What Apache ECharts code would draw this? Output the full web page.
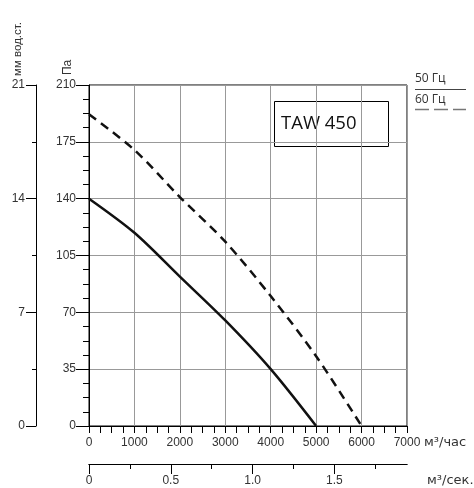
<!DOCTYPE html>
<html>
<head>
<meta charset="utf-8">
<style>
  html, body { margin: 0; padding: 0; background: #fff; }
  #chart { width: 474px; height: 488px; }
</style>
<script src="https://cdn.jsdelivr.net/npm/echarts@6/dist/echarts.min.js"></script>
</head>
<body>
<div id="chart"></div>
<script>
// расход, м3/час
var flow = [0, 1000, 2000, 3000, 4000, 5000, 6000];
// давление, Па
var pressure50 = [140, 119, 92, 65, 35, 0];
var pressure60 = [192, 170, 141, 113.5, 80, 43, 0];
// подписи второй оси (м3/сек)
var secMajor = [0, 0.5, 1.0, 1.5];
var secMinor = [0.25, 0.75, 1.25, 1.75];

var FONT = "'Liberation Sans', Arial, sans-serif";
var TXT = '#333';

var myChart = echarts.init(document.getElementById('chart'));

function pairs(vals) {
    return vals.map(function (v, i) { return [flow[i], v]; });
}

var option = {
    animation: false,
    textStyle: { fontFamily: FONT },
    grid: {
        left: 89, top: 85, width: 318, height: 341,
        show: true, borderColor: '#000', borderWidth: 1
    },
    xAxis: [
        {
            type: 'value', min: 0, max: 7000, interval: 1000,
            axisLine: { lineStyle: { color: '#000' } },
            axisTick: { length: 7, lineStyle: { color: '#000' } },
            minorTick: { show: true, splitNumber: 4, length: 7, lineStyle: { color: '#000' } },
            axisLabel: {
                color: TXT, fontSize: 12, margin: 11,
                formatter: function (v) { return String(v); }
            },
            splitLine: { lineStyle: { color: '#999', width: 1 } }
        },
        {
            type: 'value', position: 'bottom', offset: 38,
            min: 0, max: 7000 / 3600,
            axisLine: { onZero: false, lineStyle: { color: '#000' } },
            axisTick: { customValues: secMajor, length: 10, lineStyle: { color: '#000' } },
            axisLabel: {
                customValues: secMajor, color: TXT, fontSize: 12, margin: 11,
                formatter: function (v) { return v === 0 ? '0' : v.toFixed(1); }
            },
            splitLine: { show: false }
        },
        {
            type: 'value', position: 'bottom', offset: 38,
            min: 0, max: 7000 / 3600,
            axisLine: { onZero: false, lineStyle: { color: '#000' } },
            axisTick: { customValues: secMinor, length: 5, lineStyle: { color: '#000' } },
            axisLabel: { show: false },
            splitLine: { show: false }
        }
    ],
    yAxis: [
        {
            type: 'value', min: 0, max: 210, interval: 35,
            axisLine: { show: true, lineStyle: { color: '#000' } },
            axisTick: { show: true, length: 13, lineStyle: { color: '#000' } },
            minorTick: { show: true, splitNumber: 4, length: 6, lineStyle: { color: '#000' } },
            axisLabel: { color: TXT, fontSize: 12, margin: 13 },
            splitLine: { lineStyle: { color: '#999', width: 1 } }
        },
        {
            type: 'value', position: 'left', offset: 53,
            min: 0, max: 21, interval: 7,
            axisLine: { show: true, onZero: false, lineStyle: { color: '#000' } },
            axisTick: { show: true, length: 10, lineStyle: { color: '#000' } },
            minorTick: { show: true, splitNumber: 2, length: 4, lineStyle: { color: '#000' } },
            axisLabel: { color: TXT, fontSize: 12, margin: 11 },
            splitLine: { show: false }
        }
    ],
    series: [
        {
            name: '50 Гц', type: 'line', smooth: 0.3, symbol: 'none',
            data: pairs(pressure50),
            lineStyle: { color: '#111', width: 2.5 }
        },
        {
            name: '60 Гц', type: 'line', smooth: 0.3, symbol: 'none',
            data: pairs(pressure60),
            lineStyle: { color: '#111', width: 2.5, type: [9, 6] }
        }
    ],
    graphic: [
        {
            type: 'text', x: 18, y: 76, rotation: Math.PI / 2,
            style: { text: 'мм вод.ст.', fill: TXT, font: '11.5px ' + FONT, align: 'left', verticalAlign: 'middle' }
        },
        {
            type: 'text', x: 68, y: 75, rotation: Math.PI / 2,
            style: { text: 'Па', fill: TXT, font: '12px ' + FONT, align: 'left', verticalAlign: 'middle' }
        },
        {
            type: 'rect', shape: { x: 274.5, y: 101.5, width: 114, height: 45 },
            style: { fill: '#fff', stroke: '#000', lineWidth: 1 }
        },
        {
            type: 'text', x: 281, y: 124,
            style: { text: 'TAW 450', fill: '#111', font: "18.5px 'Open Sans', sans-serif", verticalAlign: 'middle' }
        },
        {
            type: 'text', x: 415, y: 79,
            style: { text: '50 Гц', fill: TXT, font: "12px 'Open Sans', sans-serif", verticalAlign: 'middle' }
        },
        {
            type: 'line', shape: { x1: 415, y1: 89.5, x2: 466, y2: 89.5 },
            style: { stroke: '#444', lineWidth: 1 }
        },
        {
            type: 'text', x: 415, y: 100,
            style: { text: '60 Гц', fill: TXT, font: "12px 'Open Sans', sans-serif", verticalAlign: 'middle' }
        },
        {
            type: 'line', shape: { x1: 415, y1: 109.5, x2: 466, y2: 109.5 },
            style: { stroke: '#777', lineWidth: 1.5, lineDash: [14, 5] }
        },
        {
            type: 'text', x: 424, y: 443,
            style: { text: 'м³/час', fill: TXT, font: "13px 'DejaVu Sans', sans-serif", verticalAlign: 'middle' }
        },
        {
            type: 'text', x: 427, y: 481,
            style: { text: 'м³/сек.', fill: TXT, font: "13px 'DejaVu Sans', sans-serif", verticalAlign: 'middle' }
        }
    ]
};

myChart.setOption(option);
window.addEventListener('resize', function () {
    myChart.resize();
});
</script>
</body>
</html>
